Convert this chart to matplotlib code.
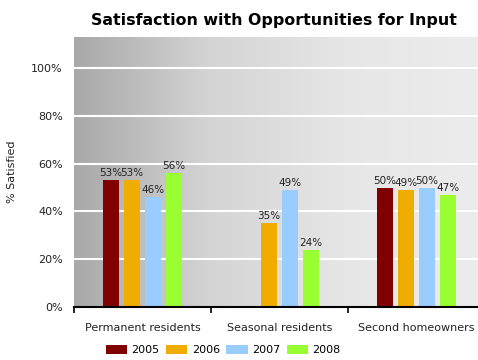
import numpy as np
import matplotlib
matplotlib.use("Agg")
import matplotlib.pyplot as plt
from matplotlib.patches import Patch

categories = ["Permanent residents", "Seasonal residents", "Second homeowners"]
years = ["2005", "2006", "2007", "2008"]
values = {
    "2005": [53, np.nan, 50],
    "2006": [53, 35, 49],
    "2007": [46, 49, 50],
    "2008": [56, 24, 47],
}
colors = ["#800000", "#f0ad00", "#99ccff", "#99ff33"]
yticks = [0, 20, 40, 60, 80, 100]

fig = plt.figure(figsize=(4.78, 3.6), dpi=100)
ax = fig.add_axes([74 / 478, 53 / 360, 1 - 74 / 478, 270 / 360])

xmin, xmax = -0.5, 2.45
ymin, ymax = 0, 113
grad = np.linspace(0, 1, 256).reshape(1, -1)
ax.imshow(grad, extent=[xmin, xmax, ymin, ymax], aspect="auto",
          cmap=matplotlib.colors.LinearSegmentedColormap.from_list(
              "bg", ["#a8a8a8", "#d4d4d4", "#e6e6e6", "#ececec"]),
          zorder=0, interpolation="bilinear")
for y in yticks[1:]:
    ax.axhline(y, color="white", lw=1.5, zorder=1)

x = np.arange(len(categories))
step = 0.153
width = 0.117
for i, (yr, c) in enumerate(zip(years, colors)):
    off = (i - 1.5) * step
    vals = values[yr]
    ax.bar(x + off, vals, width=width, color=c, zorder=2)
    for xi, v in zip(x + off, vals):
        if not np.isnan(v):
            ax.text(xi, v + 0.8, f"{v:.0f}%", ha="center", va="bottom",
                    fontsize=7.5, color="#222222", zorder=3)

ax.set_xlim(xmin, xmax)
ax.set_ylim(ymin, ymax)
ax.set_yticks(yticks)
ax.set_yticklabels([f"{t}%" for t in yticks], fontsize=8, color="#222222")
ax.tick_params(axis="y", length=0, pad=8)
ax.set_xticks([-0.5, 0.5, 1.5])
ax.set_xticklabels([])
ax.tick_params(axis="x", length=4, width=1.2, direction="out", color="black")
for i, cat in enumerate(categories):
    ax.text(i, -6.5, cat, ha="center", va="top", fontsize=8, color="#222222",
            transform=ax.transData)
for s in ["top", "right", "left"]:
    ax.spines[s].set_visible(False)
ax.spines["bottom"].set_linewidth(1.5)
ax.set_ylabel("% Satisfied", fontsize=8, color="#222222", labelpad=10)

fig.text(0.574, 0.944, "Satisfaction with Opportunities for Input",
         ha="center", va="center", fontsize=11.4, fontweight="bold")

handles = [Patch(facecolor=c, label=y) for y, c in zip(years, colors)]
fig.legend(handles=handles, loc="center", bbox_to_anchor=(0.467, 0.027),
           ncol=4, frameon=False, fontsize=8, handlelength=1.9,
           handleheight=0.8, columnspacing=0.6, handletextpad=0.4)

fig.savefig("out.png", dpi=100)
